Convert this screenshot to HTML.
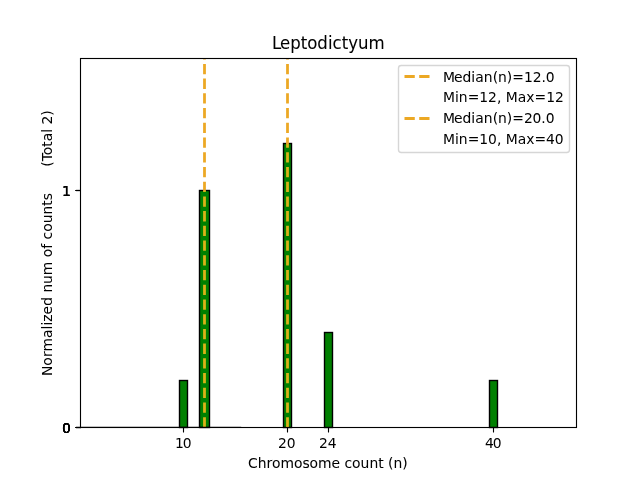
<!DOCTYPE html>
<html lang="en">
<head>
<meta charset="utf-8">
<title>Leptodictyum</title>
<style>
  html, body { margin: 0; padding: 0; background: #ffffff; width: 640px; height: 480px; overflow: hidden; }
  svg { display: block; position: absolute; left: 0; top: 0; }
  text { font-family: "DejaVu Sans", "Liberation Sans", sans-serif; font-size: 13.889px; fill: #000000; }
  .title { font-size: 16.667px; }
  .pre { white-space: pre; }
  .spine { fill: none; stroke: #000000; stroke-width: 1.111; stroke-linecap: square; }
  .tick { stroke: #000000; stroke-width: 1.111; }
  .bar { fill: #008000; stroke: #000000; stroke-width: 1.389; stroke-linejoin: miter; }
  .median { fill: none; stroke: #eca824; stroke-width: 2.778; stroke-dasharray: 10.278 4.444; }
  .inbar { stroke: #dcb218; }
</style>
</head>
<body>
<svg width="640" height="480" viewBox="0 0 640 480">
  <rect x="0" y="0" width="640" height="480" fill="#ffffff"/>

  <!-- bars -->
  <g id="bars">
    <rect class="bar" x="199.5" y="190.5" width="10" height="237"/>
    <rect class="bar" x="179.5" y="380.5" width="8" height="47"/>
    <rect class="bar" x="283.5" y="143.5" width="8" height="284"/>
    <rect class="bar" x="324.5" y="332.5" width="8" height="95"/>
    <rect class="bar" x="489.5" y="380.5" width="8" height="47"/>
  </g>

  <!-- x axis ticks and labels -->
  <g id="xaxis">
    <line class="tick" x1="183.5" y1="427.5" x2="183.5" y2="432.5"/>
    <line class="tick" x1="287.5" y1="427.5" x2="287.5" y2="432.5"/>
    <line class="tick" x1="328.5" y1="427.5" x2="328.5" y2="432.5"/>
    <line class="tick" x1="493.5" y1="427.5" x2="493.5" y2="432.5"/>
    <text x="175.02 182.83" y="448">10</text>
    <text x="277.92 286.73" y="448">20</text>
    <text x="319 327.81" y="448">24</text>
    <text x="485.08 492.64" y="448">40</text>
    <text stroke="#000000" stroke-width="0.04" x="247.94 257.63 266.41 272.06 280.55 294.06 302.56 309.53 318.02 331.53 340.08 344.49 352.11 360.61 369.39 378.19 383.63 388.05 393.46 402.25" y="468">Chromosome count (n)</text>
  </g>

  <!-- y axis ticks and labels -->
  <g id="yaxis">
    <line class="tick" x1="75.5" y1="427.5" x2="81" y2="427.5"/>
    <line class="tick" x1="75.5" y1="427.5" x2="81" y2="427.5"/>
    <line class="tick" x1="75.5" y1="427.5" x2="81" y2="427.5"/>
    <line class="tick" x1="75.5" y1="427.5" x2="81" y2="427.5"/>
    <line class="tick" x1="75.5" y1="427.5" x2="81" y2="427.5"/>
    <line class="tick" x1="75.5" y1="190.5" x2="80.5" y2="190.5"/>
    <line class="tick" x1="75.5" y1="190.5" x2="80.5" y2="190.5"/>
    <line class="tick" x1="75.5" y1="190.5" x2="80.5" y2="190.5"/>
    <text x="62" y="433">0</text>
    <text x="62" y="433">0</text>
    <text x="62" y="433">0</text>
    <text x="62" y="433">0</text>
    <text x="62" y="433">0</text>
    <text x="62" y="196">1</text>
    <text x="62" y="196">1</text>
    <text x="62" y="196">1</text>
    <text stroke="#000000" stroke-width="0.03" class="pre" xml:space="preserve" transform="translate(51.5 375.75) rotate(-90)" x="-0.25 10.12 18.86 24.33 37.84 46.34 50.19 54.05 61.33 70.12 78.67 83.34 91.88 100.42 114.19 118.59 127.09 131.97 136.39 144.02 152.5 161.3 170.09 175.53 182.77 187.17 191.58 195.98 200.41 204.81 208.97 214.64 220.5 228.98 234.44 242.94 247.03 251.2 260.03" y="0">Normalized num of counts      (Total 2)</text>
  </g>

  <!-- median lines -->
  <g id="medians">
    <line class="median inbar" x1="204.5" y1="427.5" x2="204.5" y2="191"/>
    <line class="median" x1="204.5" y1="191" x2="204.5" y2="58.5" stroke-dashoffset="236.5"/>
    <line class="median inbar" x1="287.5" y1="427.5" x2="287.5" y2="144"/>
    <line class="median" x1="287.5" y1="144" x2="287.5" y2="58.5" stroke-dashoffset="283.5"/>
  </g>

  <!-- baseline curve -->
  <rect x="80" y="426.8" width="161.2" height="0.7" fill="#000000"/>

  <!-- spines -->
  <rect class="spine" x="80.5" y="58.5" width="496" height="369"/>

  <!-- title -->
  <text stroke="#000000" stroke-width="0.06" class="title" transform="translate(271.25 49) scale(0.995 1.06)" x="0.75 8.73 19.22 29.55 36.08 46.27 57.09 61.47 70.88 77.41 87.27 97.83" y="0">Leptodictyum</text>

  <!-- legend -->
  <g id="legend">
    <rect x="398.5" y="65.5" width="171" height="87" rx="2.8" ry="2.8" fill="#ffffff" fill-opacity="0.8" stroke="#cccccc" stroke-opacity="0.8" stroke-width="1.389"/>
    <line class="median" x1="404.5" y1="76.5" x2="432.3" y2="76.5"/>
    <text stroke="#000000" stroke-width="0.025" x="443 453.97 462.5 471.31 475.16 483.67 492.7 497.88 506.67 512.33 523.95 532.78 541.61 545.77" y="82">Median(n)=12.0</text>
    <text x="443 454.97 458.81 467.86 479.23 488.06 496.89 501.3 505.72 517.69 526.19 534.41 546.28 555.11" y="102">Min=12, Max=12</text>
    <line class="median" x1="404.5" y1="118.5" x2="432.3" y2="118.5"/>
    <text stroke="#000000" stroke-width="0.025" x="443 453.97 462.5 471.31 475.16 483.67 492.7 497.88 506.67 512.33 523.95 532.53 541.36 545.77" y="123">Median(n)=20.0</text>
    <text x="443 454.97 458.81 467.86 479.23 488.06 496.89 501.3 505.72 517.69 526.19 534.41 546.03 554.86" y="144">Min=10, Max=40</text>
  </g>
</svg>
</body>
</html>
